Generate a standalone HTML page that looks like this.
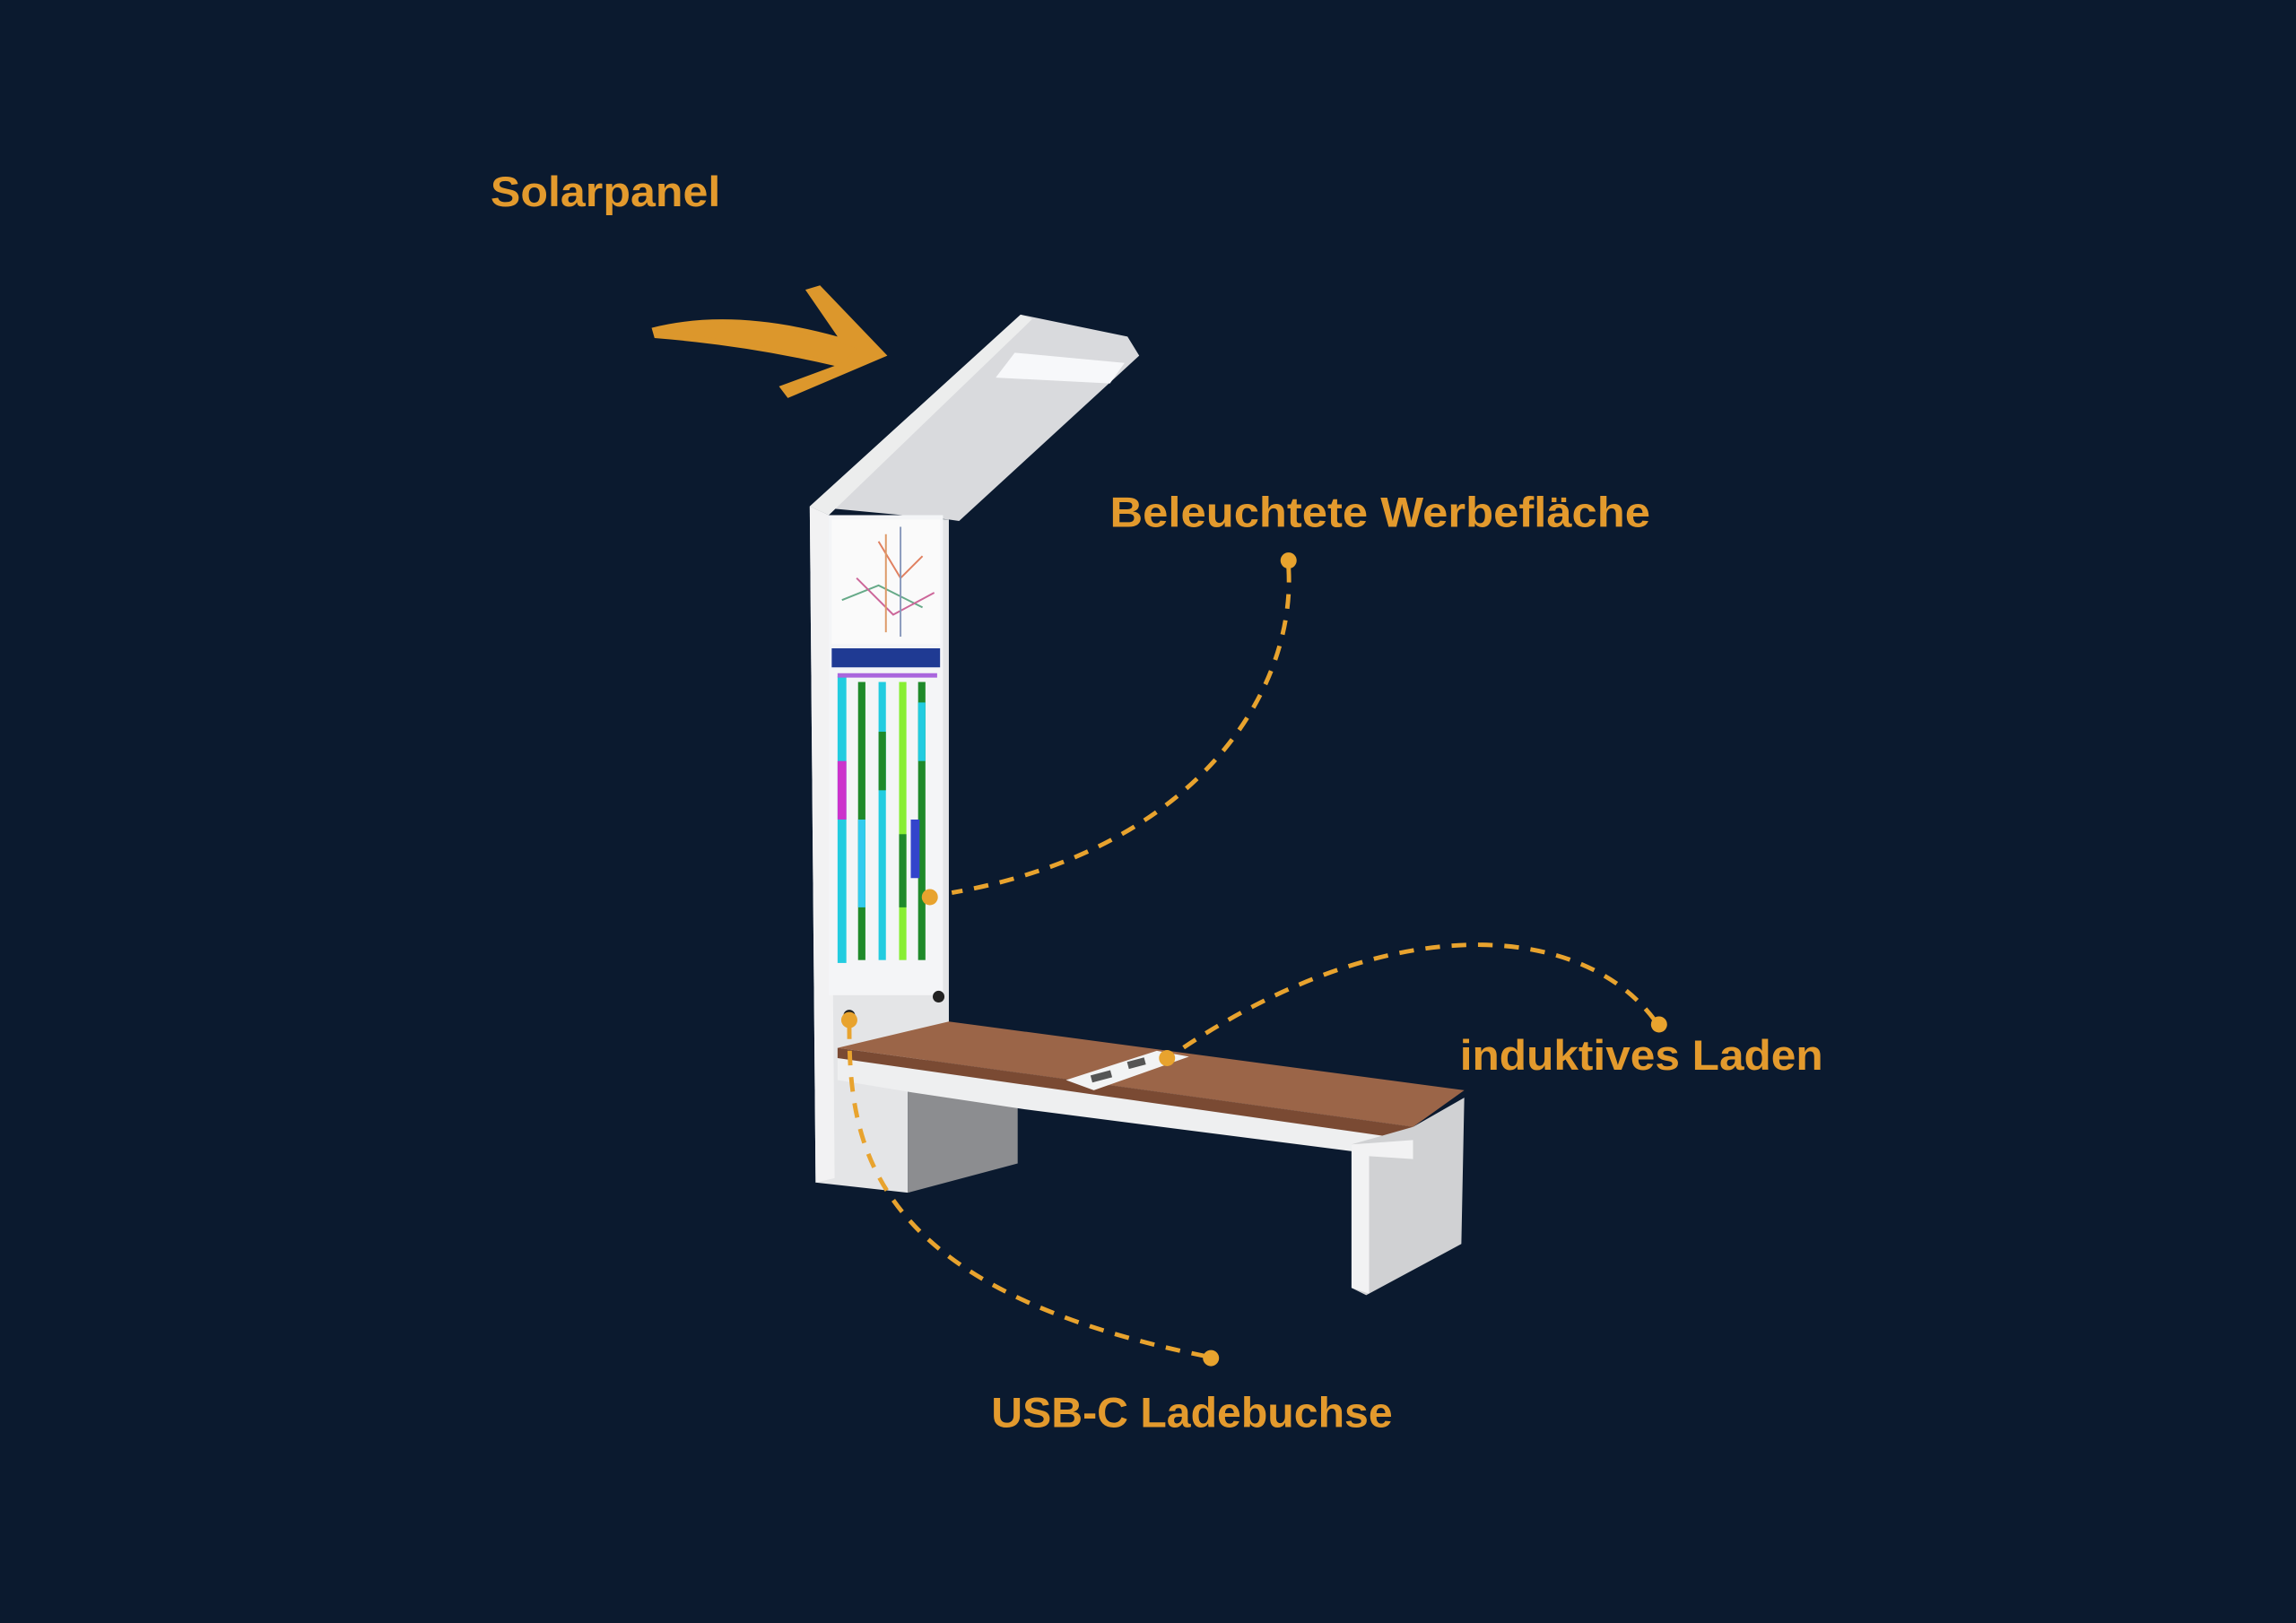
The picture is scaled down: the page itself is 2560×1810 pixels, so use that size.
<!DOCTYPE html>
<html><head><meta charset="utf-8"><style>
html,body{margin:0;padding:0;background:#0b1a2f;}
svg{display:block}
text{font-family:"Liberation Sans",sans-serif;font-weight:bold;fill:#e39a2d}
</style></head><body>
<svg width="2560" height="1810" viewBox="0 0 1568 1109" preserveAspectRatio="none" xmlns="http://www.w3.org/2000/svg">
<rect width="1568" height="1109" fill="#0b1a2f"/>
<text x="335" y="141" font-size="29" textLength="157" lengthAdjust="spacingAndGlyphs">Solarpanel</text>
<text x="758" y="360" font-size="29" textLength="369" lengthAdjust="spacingAndGlyphs">Beleuchtete Werbefläche</text>
<text x="997" y="731" font-size="29" textLength="248" lengthAdjust="spacingAndGlyphs">induktives Laden</text>
<text x="677" y="975" font-size="29" textLength="274" lengthAdjust="spacingAndGlyphs">USB-C Ladebuchse</text>
<!-- arrow -->
<path d="M445,224 Q500,210 572,230 L550,198 L560,195 L606,243 L538,272 L532,264 L570,250 Q510,236 447,231 Z" fill="#dc972c"/>
<path d="M470,221 Q530,218 585,238 L575,248 Q520,234 470,229 Z" fill="#dc972c"/>
<!-- lamp arm -->
<polygon points="553,346 697,215 770,230 778,243 655,356 648,355" fill="#d9dadd"/>
<polygon points="553,346 697,215 705,218 566,352" fill="#eceded"/>
<polygon points="680,258 693,241 768,248 758,262" fill="#f7f8fa"/>
<!-- pole -->
<polygon points="553,346 566,352 648,355 648,700 620,745 620,815 557,808" fill="#e4e5e7"/>
<polygon points="553,346 566,352 570,805 557,808" fill="#f2f2f3"/>
<rect x="566" y="352" width="78" height="328" fill="#f4f5f7"/>
<rect x="568" y="355" width="74" height="85" fill="#fafafa"/>
<g stroke-width="1.2" fill="none">
<path d="M600,370 L615,395 L630,380" stroke="#e08060"/>
<path d="M575,410 L600,400 L630,415" stroke="#66aa88"/>
<path d="M585,395 L610,420 L638,405" stroke="#cc6699"/>
<path d="M615,360 L615,435" stroke="#8899bb"/>
<path d="M605,365 L605,432" stroke="#dd9966"/>
</g>
<rect x="568" y="443" width="74" height="13" fill="#1f3a93"/>
<g>
<rect x="572" y="462" width="6" height="196" fill="#22cce0"/>
<rect x="572" y="520" width="6" height="40" fill="#cc33cc"/>
<rect x="586" y="466" width="5" height="190" fill="#1f8a2a"/>
<rect x="586" y="560" width="5" height="60" fill="#33ccee"/>
<rect x="600" y="466" width="5" height="190" fill="#22cce0"/>
<rect x="600" y="500" width="5" height="40" fill="#1f8a2a"/>
<rect x="614" y="466" width="5" height="190" fill="#88ee33"/>
<rect x="614" y="570" width="5" height="50" fill="#1f8a2a"/>
<rect x="627" y="466" width="5" height="190" fill="#1f8a2a"/>
<rect x="627" y="480" width="5" height="40" fill="#22cce0"/>
<rect x="572" y="460" width="68" height="3" fill="#aa66dd"/>
<rect x="622" y="560" width="6" height="40" fill="#3344cc"/>
</g>
<circle cx="641" cy="681" r="4" fill="#222"/>
<circle cx="580" cy="694" r="4" fill="#222"/>
<polygon points="620,742 695,752 695,795 620,815" fill="#8c8d90"/>
<polygon points="572,716 965,770 965,792 700,758 620,746 572,738" fill="#eeeff0"/>
<polygon points="572,716 648,698 1000,745 965,770" fill="#9b6548"/>
<polygon points="572,716 965,770 965,779 572,723" fill="#7a4a33"/>
<polygon points="728,738 790,718 812,722 747,745" fill="#f2f3f4"/>
<rect x="745" y="733" width="14" height="5" fill="#555" transform="rotate(-15 752 735)"/>
<rect x="770" y="724" width="12" height="5" fill="#555" transform="rotate(-15 776 726)"/>
<polygon points="965,770 1000,750 998,850 933,885 923,880 923,782" fill="#d0d1d3"/>
<polygon points="923,782 965,779 965,792 935,790 935,884 923,880" fill="#f2f2f3"/>
<g fill="none" stroke="#e8a32e" stroke-width="3" stroke-dasharray="10 8">
<path d="M880,388 C885,470 820,580 650,610"/>
<path d="M1130,697 C1080,630 950,620 805,718"/>
<path d="M580,700 C580,780 590,880 825,927"/>
</g>
<g fill="#e8a32e">
<circle cx="880" cy="383" r="5.5"/>
<circle cx="635" cy="613" r="5.5"/>
<circle cx="1133" cy="700" r="5.5"/>
<circle cx="797" cy="723" r="5.5"/>
<circle cx="580" cy="697" r="5.5"/>
<circle cx="827" cy="928" r="5.5"/>
</g>
</svg>
</body></html>
